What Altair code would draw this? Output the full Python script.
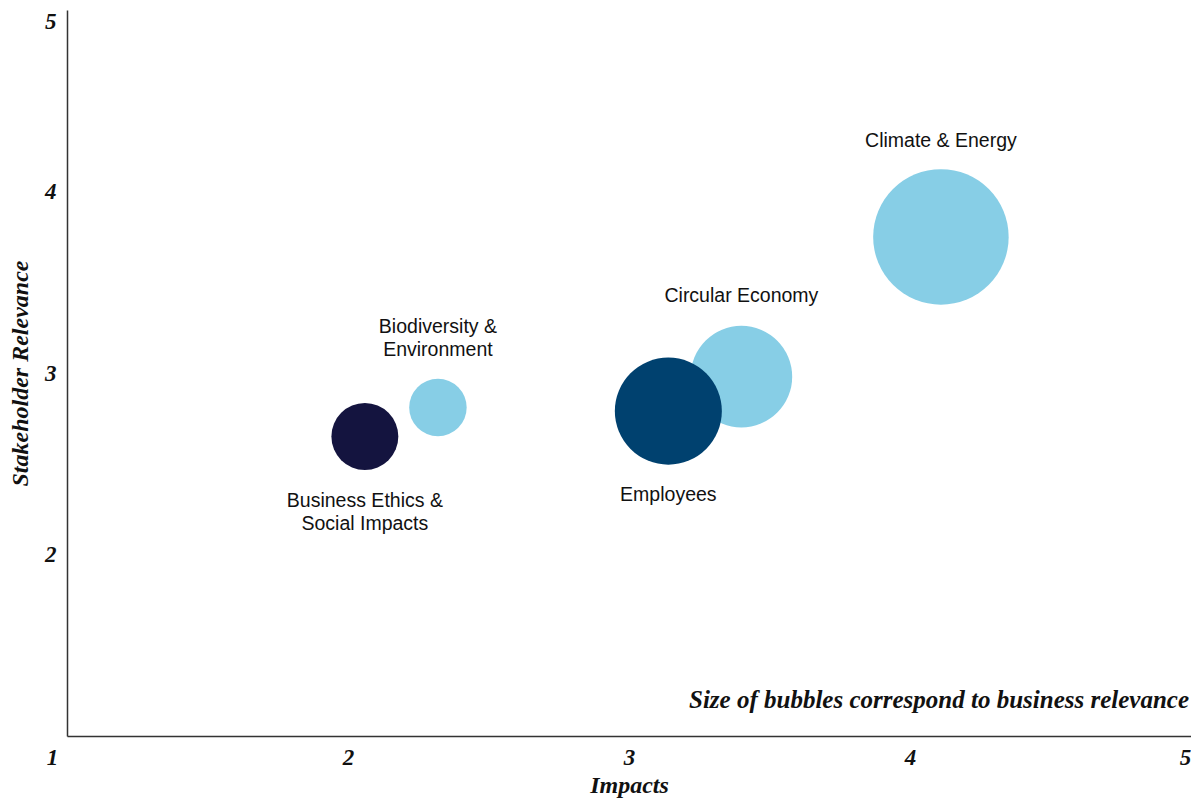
import altair as alt
import pandas as pd

# ---- data ----
topics = [
    "Business Ethics & Social Impacts",
    "Biodiversity & Environment",
    "Circular Economy",
    "Employees",
    "Climate & Energy",
]
label_text = [
    "Business Ethics &\nSocial Impacts",
    "Biodiversity &\nEnvironment",
    "Circular Economy",
    "Employees",
    "Climate & Energy",
]
impacts = [2.06, 2.32, 3.40, 3.14, 4.11]
stakeholder_relevance = [2.65, 2.81, 2.98, 2.79, 3.75]
business_relevance = [1.22, 0.90, 2.81, 3.12, 5.00]
label_y = [2.295, 3.253, 3.424, 2.328, 4.278]
bubble_colors = ["#14143F", "#87CEE6", "#87CEE6", "#00416F", "#87CEE6"]

x_ticks = [1, 2, 3, 4, 5]
y_ticks = [2, 3, 4, 5]
note = "Size of bubbles correspond to business relevance"

df = pd.DataFrame({
    "topic": topics,
    "label": label_text,
    "impacts": impacts,
    "stakeholder": stakeholder_relevance,
    "business": business_relevance,
    "label_y": label_y,
    "draw": list(range(len(topics))),
})

SERIF = "Liberation Serif"
SANS = "Liberation Sans"

x_scale = alt.Scale(domain=[1, 5], nice=False, zero=False)
y_scale = alt.Scale(domain=[1, 5], nice=False, zero=False)

x_axis = alt.Axis(
    values=x_ticks, format="d", title="Impacts", grid=False, ticks=False, tickSize=0,
    labelFlush=False, labelPadding=10, labelFontSize=23,
    labelOffset=alt.ExprRef("datum.value == 1 ? -15 : (datum.value == 5 ? -6 : 0)"),
    titleY=37, titleBaseline="top", titleFontSize=24,
)
y_axis = alt.Axis(
    values=y_ticks, format="d", title="Stakeholder Relevance", grid=False, ticks=False, tickSize=0,
    labelFlush=True, labelPadding=11, labelFontSize=23,
    titleAngle=270, titleX=-47, titleY=363, titleBaseline="middle", titleAlign="center",
    titleFontSize=24,
)

base = alt.Chart(df)

bubbles = base.mark_circle(opacity=1).encode(
    x=alt.X("impacts:Q", scale=x_scale, axis=x_axis),
    y=alt.Y("stakeholder:Q", scale=y_scale, axis=y_axis),
    size=alt.Size("business:Q", scale=alt.Scale(domain=[0, 5], range=[0, 18360]), legend=None),
    color=alt.Color("topic:N", scale=alt.Scale(domain=topics, range=bubble_colors), legend=None),
    order=alt.Order("draw:Q"),
)

labels = base.mark_text(
    font=SANS, fontSize=19.5, lineBreak="\n", lineHeight=23,
    align="center", baseline="middle", color="#111111",
).encode(
    x=alt.X("impacts:Q", scale=x_scale),
    y=alt.Y("label_y:Q", scale=y_scale),
    text="label:N",
)

annotation = alt.Chart(pd.DataFrame({"t": [note]})).mark_text(
    font=SERIF, fontStyle="italic", fontWeight="bold", fontSize=25,
    align="right", baseline="middle", color="#111111", dx=-2,
).encode(
    x=alt.datum(5),
    y=alt.datum(1.2),
    text="t:N",
)

chart = alt.layer(bubbles, labels, annotation).properties(
    width=1124, height=726,
    padding={"left": 59, "top": 2, "right": 0, "bottom": 64},
    autosize="none",
).configure_view(stroke=None).configure_axis(
    domainColor="#333333", domainWidth=1.5,
    labelFont=SERIF, labelFontStyle="italic", labelFontWeight="bold", labelColor="#111111",
    titleFont=SERIF, titleFontStyle="italic", titleFontWeight="bold", titleColor="#111111",
)

chart.save("out.html", embed_options={"renderer": "svg", "actions": False})
